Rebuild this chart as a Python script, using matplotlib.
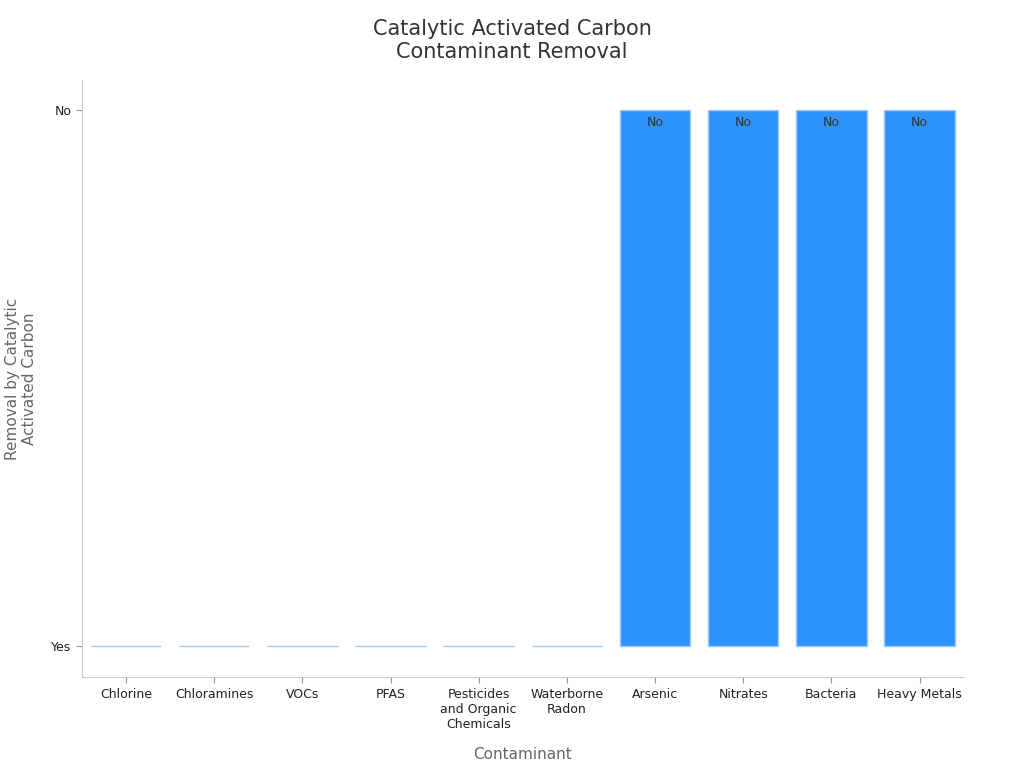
import matplotlib
matplotlib.use("Agg")
import matplotlib.pyplot as plt

categories = ["Chlorine", "Chloramines", "VOCs", "PFAS", "Pesticides\nand Organic\nChemicals",
              "Waterborne\nRadon", "Arsenic", "Nitrates", "Bacteria", "Heavy Metals"]
removal = ["Yes", "Yes", "Yes", "Yes", "Yes", "Yes", "No", "No", "No", "No"]
levels = ["Yes", "No"]

vals = [levels.index(r) for r in removal]

fig = plt.figure(figsize=(10.24, 7.68), dpi=100)
ax = fig.add_axes([0.080, 0.118, 0.861, 0.778])
x = list(range(len(categories)))
bars = ax.bar(x, vals, width=0.8, color="#2E93FA", edgecolor="#9CCBF7", linewidth=1)
for xi, v, r in zip(x, vals, removal):
    if v > 0:
        ax.text(xi, v - 0.012, r, ha="center", va="top", fontsize=9, color="#333333")

ax.set_xlim(-0.5, len(categories) - 0.5)
ax.set_ylim(-0.058, 1.056)
ax.set_yticks([0, 1])
ax.set_yticklabels(levels)
ax.set_xticks(x)
ax.set_xticklabels(categories, fontsize=9, color="#222222")
ax.tick_params(axis="y", labelsize=9, colors="#222222")
ax.tick_params(axis="both", color="#999999", length=4)
for s in ["top", "right"]:
    ax.spines[s].set_visible(False)
for s in ["left", "bottom"]:
    ax.spines[s].set_color("#cccccc")
ax.set_xlabel("Contaminant", fontsize=11, color="#666666", labelpad=12)
ax.set_ylabel("Removal by Catalytic\nActivated Carbon", fontsize=11, color="#666666", labelpad=10)
fig.suptitle("Catalytic Activated Carbon\nContaminant Removal", fontsize=15, color="#333333", y=0.975)
fig.savefig("out.png", dpi=100, facecolor="white")
